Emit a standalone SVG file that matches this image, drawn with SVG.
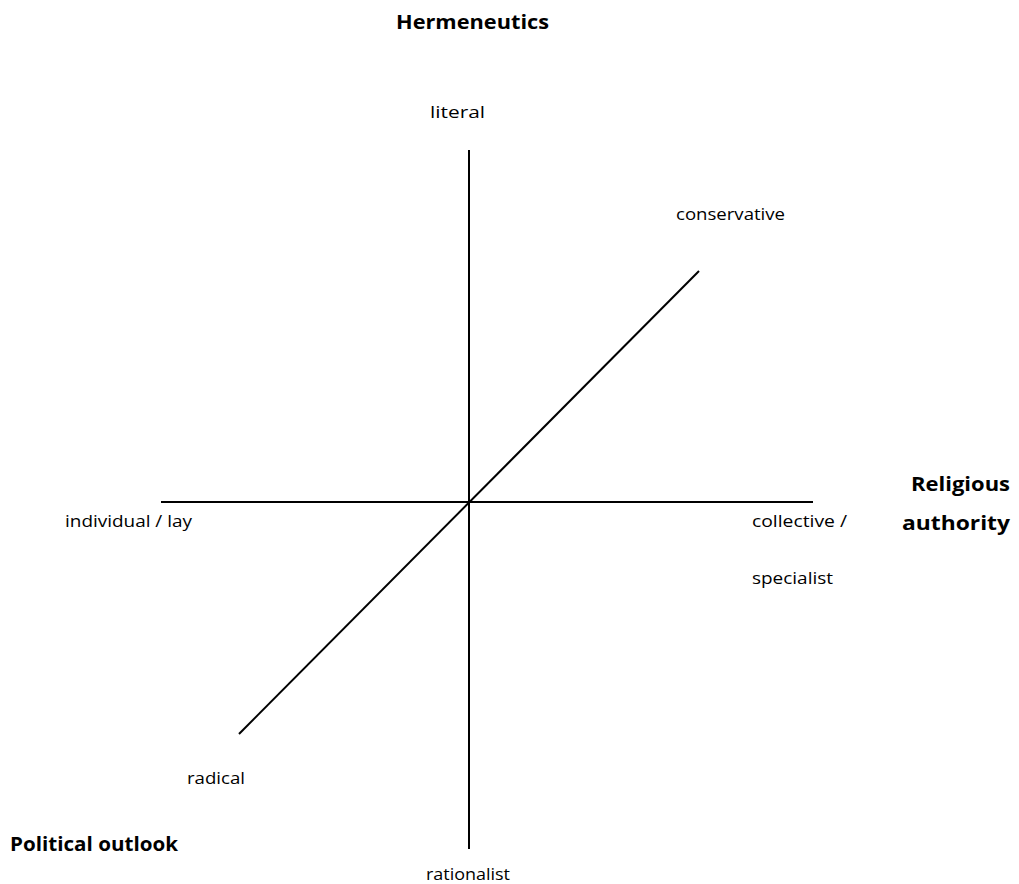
<svg xmlns="http://www.w3.org/2000/svg" width="1019" height="884" viewBox="0 0 1019 884">
<style>
.t{font-family:"Open Sans","Liberation Sans",Arial,sans-serif;font-size:16px;fill:#000}
.b{font-family:"Open Sans","Liberation Sans",Arial,sans-serif;font-size:19px;font-weight:bold;fill:#000}
.ax{stroke:#000;stroke-width:2;fill:none}
</style>
<rect width="1019" height="884" fill="#fff"/>
<g id="connectors">
<line class="ax" x1="469" y1="150" x2="469" y2="849"/>
<line class="ax" x1="161" y1="502" x2="813" y2="502"/>
<line class="ax" x1="239" y1="734" x2="699" y2="271"/>
</g>
<g id="hermeneutics"><text class="b" x="396" y="29" textLength="153" lengthAdjust="spacingAndGlyphs">Hermeneutics</text></g>
<g id="literal"><text class="t" x="430" y="118" textLength="55" lengthAdjust="spacingAndGlyphs">literal</text></g>
<g id="conservative"><text class="t" x="676" y="220" textLength="109" lengthAdjust="spacingAndGlyphs">conservative</text></g>
<g id="individual"><text class="t" x="65" y="527" textLength="127" lengthAdjust="spacingAndGlyphs">individual / lay</text></g>
<g id="collective"><text class="t" x="752" y="527" textLength="95" lengthAdjust="spacingAndGlyphs">collective /</text><text class="t" x="752" y="584" textLength="81" lengthAdjust="spacingAndGlyphs">specialist</text></g>
<g id="religious-authority"><text class="b" x="911" y="491" textLength="99" lengthAdjust="spacingAndGlyphs">Religious</text><text class="b" x="902" y="530" textLength="108" lengthAdjust="spacingAndGlyphs">authority</text></g>
<g id="radical"><text class="t" x="187" y="784" textLength="58" lengthAdjust="spacingAndGlyphs">radical</text></g>
<g id="political-outlook"><text class="b" x="10" y="851" textLength="168" lengthAdjust="spacingAndGlyphs">Political outlook</text></g>
<g id="rationalist"><text class="t" x="426" y="880" textLength="84" lengthAdjust="spacingAndGlyphs">rationalist</text></g>
</svg>
